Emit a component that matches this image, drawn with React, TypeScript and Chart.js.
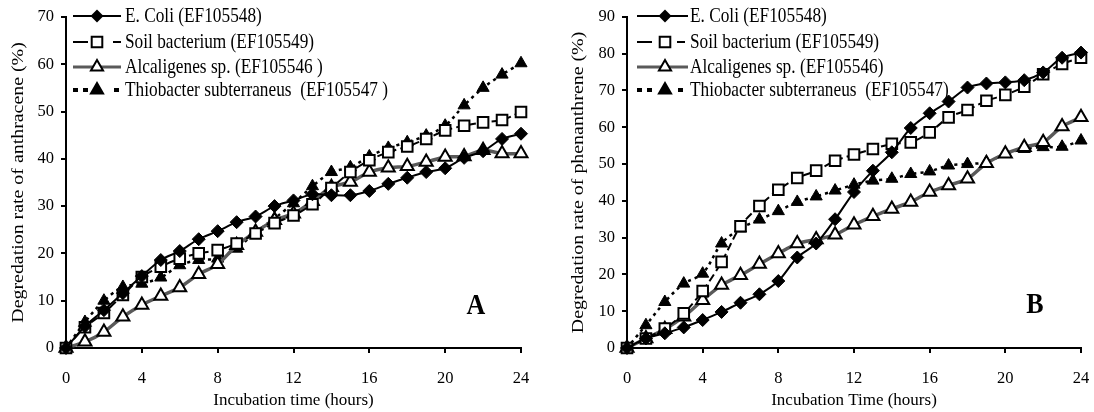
import React, { useEffect, useRef } from 'react';
import { Chart, registerables } from 'chart.js';

Chart.register(...registerables);

// ---------- data ----------
const hours = [0, 1, 2, 3, 4, 5, 6, 7, 8, 9, 10, 11, 12, 13, 14, 15, 16, 17, 18, 19, 20, 21, 22, 23, 24];

const seriesNames = [
  'E. Coli (EF105548)',
  'Soil bacterium (EF105549)',
  'Alcaligenes sp. (EF105546)',
  'Thiobacter subterraneus  (EF105547)',
];
const legendLabelsA = [
  'E. Coli (EF105548)',
  'Soil bacterium (EF105549)',
  'Alcaligenes sp. (EF105546 )',
  'Thiobacter subterraneus  (EF105547 )',
];
const legendLabelsB = [
  'E. Coli (EF105548)',
  'Soil bacterium (EF105549)',
  'Alcaligenes sp. (EF105546)',
  'Thiobacter subterraneus  (EF105547)',
];

// Chart A: anthracene
const ecoliA = [0, 4.6, 8, 11.6, 15.2, 18.6, 20.5, 23, 24.7, 26.6, 27.8, 30, 31.2, 32.5, 32.3, 32.3, 33.2, 34.7, 36, 37.2, 38, 40.2, 41.6, 44.2, 45.3];
const soilA = [0, 4.4, 7.4, 11.2, 15, 17.2, 18.9, 20, 20.7, 22.1, 24.2, 26.4, 28, 30.4, 33.8, 37.2, 39.7, 41.4, 42.6, 44.2, 46, 47, 47.7, 48.2, 49.9];
const alcA = [0, 1.3, 3.4, 6.6, 9.1, 11, 12.8, 15.6, 17.7, 21.7, 24.5, 27, 28.4, 31, 34, 35.1, 37.2, 38.1, 38.4, 39.3, 40.4, 40.5, 41.8, 41.1, 41.1];
const thioA = [0, 5.5, 10, 12.9, 13.6, 14.9, 17.5, 18.6, 18.9, 21, 24.5, 27.4, 30.6, 34.2, 37.2, 38.2, 40.5, 42.3, 43.5, 44.9, 47, 51.3, 55, 57.8, 60.2];

// Chart B: phenanthrene
const ecoliB = [0, 2.6, 4.0, 5.6, 7.6, 9.8, 12.3, 14.6, 18.2, 24.6, 28.4, 35.0, 42.4, 48.2, 53.2, 59.8, 63.8, 67.0, 70.8, 71.9, 72.2, 72.8, 74.9, 78.9, 80.3];
const soilB = [0, 2.6, 5.3, 9.4, 15.5, 23.4, 33.1, 38.6, 43.0, 46.2, 48.2, 50.9, 52.6, 54.1, 55.5, 55.9, 58.6, 62.7, 64.7, 67.2, 68.8, 71.0, 74.4, 77.2, 78.9];
const alcB = [0, 2.6, 5.1, 8.5, 13.0, 17.1, 19.8, 22.8, 25.7, 28.4, 29.5, 30.8, 33.5, 35.8, 37.8, 39.7, 42.4, 44.2, 46.0, 50.2, 52.8, 54.6, 55.9, 60.2, 62.7];
const thioB = [0, 6.2, 12.5, 17.5, 20.2, 28.4, 32.5, 34.9, 37.2, 39.7, 41.2, 42.8, 44.4, 45.5, 46.0, 47.3, 48.0, 49.6, 50.0, 50.5, 52.8, 54.1, 54.6, 54.7, 56.4];

const xMax = 24;
const xStep = 4;
const yMaxA = 70;
const yMaxB = 90;
const yStep = 10;

const FONT = "'Liberation Serif', 'Times New Roman', serif";
const GRAY = '#5a5a5a';
const STRETCH = 1.17; // the source figure is stretched vertically

// ---------- helpers ----------
type Marker = 'diamond' | 'square' | 'triOpen' | 'triFill';

function drawMarker(ctx: CanvasRenderingContext2D, m: Marker, x: number, y: number) {
  ctx.save();
  ctx.setLineDash([]);
  ctx.lineWidth = 2;
  ctx.strokeStyle = '#000';
  ctx.beginPath();
  if (m === 'diamond') {
    const r = 6.5;
    ctx.moveTo(x, y - r);
    ctx.lineTo(x + r, y);
    ctx.lineTo(x, y + r);
    ctx.lineTo(x - r, y);
    ctx.closePath();
    ctx.fillStyle = '#000';
    ctx.fill();
  } else if (m === 'square') {
    const s = 5.3;
    ctx.rect(x - s, y - s, 2 * s, 2 * s);
    ctx.fillStyle = '#fff';
    ctx.fill();
    ctx.stroke();
  } else {
    const r = 7;
    ctx.moveTo(x, y - r);
    ctx.lineTo(x + 0.866 * r, y + 0.5 * r);
    ctx.lineTo(x - 0.866 * r, y + 0.5 * r);
    ctx.closePath();
    ctx.fillStyle = m === 'triFill' ? '#000' : '#fff';
    ctx.fill();
    ctx.stroke();
  }
  ctx.restore();
}

function makeDatasets(e: number[], s: number[], a: number[], t: number[]) {
  const pts = (v: number[]) => hours.map((h, i) => ({ x: h, y: v[i] }));
  return [
    {
      label: seriesNames[0],
      data: pts(e),
      borderColor: '#000',
      borderWidth: 2,
      pointStyle: 'rectRot',
      pointRadius: 6.5,
      pointBackgroundColor: '#000',
      pointBorderColor: '#000',
      pointBorderWidth: 1,
      tension: 0.3,
      clip: false,
    },
    {
      label: seriesNames[1],
      data: pts(s),
      borderColor: '#000',
      borderWidth: 2,
      borderDash: [8, 4],
      pointStyle: 'rect',
      pointRadius: 7.5,
      pointBackgroundColor: '#fff',
      pointBorderColor: '#000',
      pointBorderWidth: 2,
      tension: 0.3,
      clip: false,
    },
    {
      label: seriesNames[2],
      data: pts(a),
      borderColor: GRAY,
      borderWidth: 3.5,
      pointStyle: 'triangle',
      pointRadius: 7.5,
      pointBackgroundColor: '#fff',
      pointBorderColor: '#000',
      pointBorderWidth: 2,
      tension: 0.3,
      clip: false,
    },
    {
      label: seriesNames[3],
      data: pts(t),
      borderColor: '#000',
      borderWidth: 2.5,
      borderDash: [3, 4],
      pointStyle: 'triangle',
      pointRadius: 7,
      pointBackgroundColor: '#000',
      pointBorderColor: '#000',
      pointBorderWidth: 1,
      tension: 0.3,
      clip: false,
    },
  ];
}

interface ChartSpec {
  yAxisWidth: number;
  rightPad: number;
  yMax: number;
  yTitle: string;
  yTitleX: number;
  xTitle: string;
  labels: string[];
  legend: { x0: number; x1: number; xm: number; xt: number; soilSeg: number[][] };
  letter: string;
  letterPos: [number, number];
  data: number[][];
}

function buildChart(canvas: HTMLCanvasElement, spec: ChartSpec) {
  const overlay = {
    id: 'overlay',
    afterDraw(chart: any) {
      const ctx: CanvasRenderingContext2D = chart.ctx;
      const ca = chart.chartArea;
      const rows = [16, 42, 67, 90];
      const { x0, x1, xm, xt, soilSeg } = spec.legend;
      ctx.save();
      ctx.strokeStyle = '#000';
      ctx.lineWidth = 2;
      ctx.beginPath();
      ctx.moveTo(x0, rows[0]);
      ctx.lineTo(x1, rows[0]);
      ctx.stroke();
      drawMarker(ctx, 'diamond', xm, rows[0]);
      ctx.beginPath();
      soilSeg.forEach(([a, b]) => {
        ctx.moveTo(a, rows[1]);
        ctx.lineTo(b, rows[1]);
      });
      ctx.stroke();
      drawMarker(ctx, 'square', xm, rows[1]);
      ctx.strokeStyle = GRAY;
      ctx.lineWidth = 3;
      ctx.beginPath();
      ctx.moveTo(x0, rows[2]);
      ctx.lineTo(x1, rows[2]);
      ctx.stroke();
      drawMarker(ctx, 'triOpen', xm, rows[2]);
      ctx.fillStyle = '#000';
      [[0, 5], [10, 15], [41, 46]].forEach(([a, b]) => {
        ctx.fillRect(x0 + a, rows[3] - 2, b - a, 4);
      });
      drawMarker(ctx, 'triFill', xm, rows[3]);

      // legend texts (vertically stretched like the source)
      ctx.fillStyle = '#000';
      ctx.font = `17.3px ${FONT}`;
      ctx.textBaseline = 'middle';
      ctx.textAlign = 'left';
      spec.labels.forEach((l, i) => {
        ctx.save();
        ctx.translate(xt, rows[i] + 1);
        ctx.scale(1, STRETCH);
        ctx.fillText(l, 0, 0);
        ctx.restore();
      });

      // y-axis title (rotated, stretched along its length)
      ctx.save();
      ctx.translate(spec.yTitleX, (ca.top + ca.bottom) / 2);
      ctx.rotate(-Math.PI / 2);
      ctx.scale(STRETCH, 1);
      ctx.font = `17px ${FONT}`;
      ctx.textAlign = 'center';
      ctx.textBaseline = 'middle';
      ctx.fillText(spec.yTitle, 0, 0);
      ctx.restore();

      // panel letter
      ctx.save();
      ctx.translate(spec.letterPos[0], spec.letterPos[1]);
      ctx.scale(1, STRETCH);
      ctx.font = `bold 26px ${FONT}`;
      ctx.textAlign = 'center';
      ctx.textBaseline = 'middle';
      ctx.fillText(spec.letter, 0, 0);
      ctx.restore();
      ctx.restore();
    },
  };

  const [e, s, a, t] = spec.data;
  return new Chart(canvas, {
    type: 'line',
    data: { datasets: makeDatasets(e, s, a, t) as any },
    options: {
      responsive: false,
      animation: false,
      events: [],
      layout: { padding: { left: 0, right: spec.rightPad, top: 16, bottom: 0 } },
      plugins: {
        legend: { display: false },
        tooltip: { enabled: false },
      },
      scales: {
        x: {
          type: 'linear',
          min: 0,
          max: xMax,
          afterFit: (sc: any) => {
            sc.height = 64;
            sc.paddingLeft = 0;
            sc.paddingRight = 0;
          },
          ticks: {
            stepSize: xStep,
            color: '#000',
            font: { family: FONT, size: 16.5 },
            padding: 16,
            maxRotation: 0,
          },
          grid: {
            drawOnChartArea: false,
            drawTicks: true,
            tickLength: 5,
            color: '#000',
            lineWidth: 2,
          },
          border: { display: true, color: '#000', width: 2 },
          title: {
            display: true,
            text: spec.xTitle,
            color: '#000',
            font: { family: FONT, size: 17 },
            padding: { top: 0, bottom: 1 },
          },
        },
        y: {
          type: 'linear',
          min: 0,
          max: spec.yMax,
          afterFit: (sc: any) => {
            sc.width = spec.yAxisWidth;
          },
          ticks: {
            stepSize: yStep,
            color: '#000',
            font: { family: FONT, size: 16.5 },
            padding: 7,
          },
          grid: {
            drawOnChartArea: false,
            drawTicks: true,
            tickLength: 5,
            color: '#000',
            lineWidth: 2,
          },
          border: { display: true, color: '#000', width: 2 },
          title: { display: false },
        },
      },
    },
    plugins: [overlay as any],
  });
}

export default function App() {
  const leftRef = useRef<HTMLCanvasElement | null>(null);
  const rightRef = useRef<HTMLCanvasElement | null>(null);

  useEffect(() => {
    const c1 = buildChart(leftRef.current!, {
      yAxisWidth: 66,
      rightPad: 26,
      yMax: yMaxA,
      yTitle: 'Degredation rate of anthracene (%)',
      yTitleX: 19,
      xTitle: 'Incubation time (hours)',
      labels: legendLabelsA,
      legend: { x0: 73, x1: 121, xm: 97, xt: 125, soilSeg: [[73, 88], [113, 121]] },
      letter: 'A',
      letterPos: [476, 306],
      data: [ecoliA, soilA, alcA, thioA],
    });
    const c2 = buildChart(rightRef.current!, {
      yAxisWidth: 67,
      rightPad: 13,
      yMax: yMaxB,
      yTitle: 'Degredation rate of phenanthrene (%)',
      yTitleX: 19,
      xTitle: 'Incubation Time (hours)',
      labels: legendLabelsB,
      legend: { x0: 77, x1: 128, xm: 105, xt: 130, soilSeg: [[77, 92], [117, 125]] },
      letter: 'B',
      letterPos: [475, 305],
      data: [ecoliB, soilB, alcB, thioB],
    });
    return () => {
      c1.destroy();
      c2.destroy();
    };
  }, []);

  return (
    <div style={{ position: 'absolute', left: 0, top: 0, width: 1094, height: 412, background: '#fff', overflow: 'hidden' }}>
      <canvas ref={leftRef} width={547} height={412} style={{ position: 'absolute', left: 0, top: 0, width: 547, height: 412 }} />
      <canvas ref={rightRef} width={534} height={412} style={{ position: 'absolute', left: 560, top: 0, width: 534, height: 412 }} />
    </div>
  );
}
